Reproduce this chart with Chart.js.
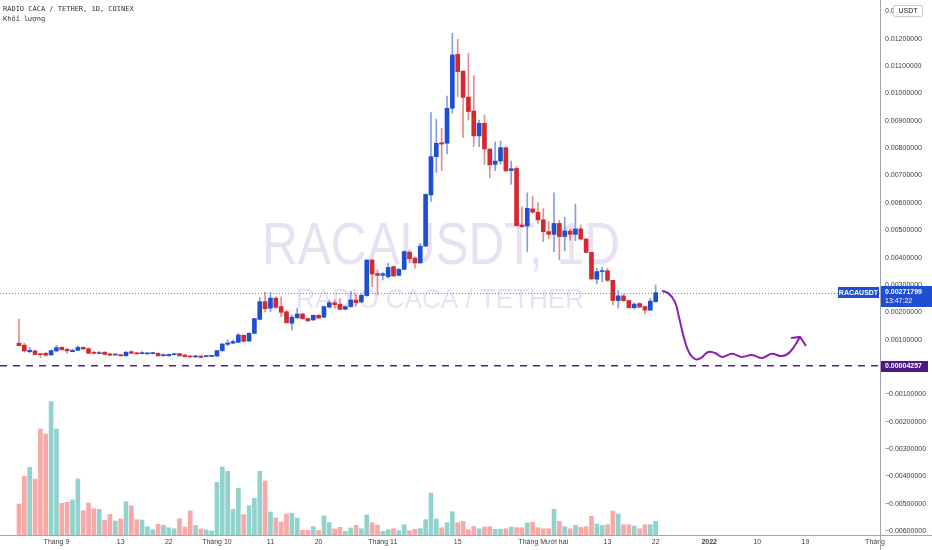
<!DOCTYPE html>
<html>
<head>
<meta charset="utf-8">
<script src="https://cdn.jsdelivr.net/npm/chart.js@4.4.0/dist/chart.umd.min.js"></script>
<style>
  html, body { margin: 0; padding: 0; background: #ffffff; }
  #wrap { position: relative; width: 932px; height: 550px; }
</style>
</head>
<body>
<div id="wrap"><canvas id="chart" width="932" height="550"></canvas></div>
<script>
// RACA/USDT, nến ngày (1D), ngày 0 = 25/08/2021, ngày 119 = 22/12/2021
var opens = [
  0.00087, 0.00080, 0.00056, 0.00059, 0.00048, 0.00050, 0.00044, 0.00059, 0.00072, 0.00065,
  0.00056, 0.00061, 0.00072, 0.00067, 0.00054, 0.00049, 0.00054, 0.00048, 0.00044, 0.00045,
  0.00041, 0.00056, 0.00052, 0.00049, 0.00048, 0.00049, 0.00050, 0.00041, 0.00041, 0.00045,
  0.00049, 0.00044, 0.00040, 0.00037, 0.00040, 0.00038, 0.00039, 0.00040, 0.00060, 0.00083,
  0.00087, 0.00090, 0.00116, 0.00095, 0.00123, 0.00174, 0.00239, 0.00215, 0.00252, 0.00221,
  0.00202, 0.00160, 0.00180, 0.00194, 0.00177, 0.00172, 0.00189, 0.00182, 0.00219, 0.00235,
  0.00230, 0.00211, 0.00221, 0.00245, 0.00238, 0.00261, 0.00391, 0.00342, 0.00335, 0.00330,
  0.00367, 0.00335, 0.00357, 0.00420, 0.00398, 0.00381, 0.00442, 0.00629, 0.00769, 0.00820,
  0.00818, 0.00946, 0.01143, 0.01082, 0.00987, 0.00936, 0.00845, 0.00891, 0.00797, 0.00741,
  0.00753, 0.00802, 0.00718, 0.00726, 0.00519, 0.00516, 0.00578, 0.00566, 0.00538, 0.00495,
  0.00485, 0.00525, 0.00477, 0.00497, 0.00485, 0.00505, 0.00468, 0.00419, 0.00321, 0.00349,
  0.00352, 0.00317, 0.00243, 0.00260, 0.00243, 0.00217, 0.00232, 0.00221, 0.00208, 0.00239
];
var highs = [
  0.00175, 0.00087, 0.00071, 0.00061, 0.00050, 0.00054, 0.00062, 0.00079, 0.00074, 0.00067,
  0.00066, 0.00077, 0.00074, 0.00070, 0.00056, 0.00057, 0.00056, 0.00049, 0.00047, 0.00046,
  0.00056, 0.00059, 0.00054, 0.00056, 0.00052, 0.00054, 0.00052, 0.00048, 0.00047, 0.00048,
  0.00050, 0.00045, 0.00041, 0.00041, 0.00042, 0.00041, 0.00042, 0.00061, 0.00087, 0.00099,
  0.00099, 0.00123, 0.00118, 0.00126, 0.00178, 0.00254, 0.00274, 0.00272, 0.00257, 0.00257,
  0.00208, 0.00190, 0.00215, 0.00196, 0.00178, 0.00191, 0.00193, 0.00223, 0.00243, 0.00245,
  0.00251, 0.00223, 0.00277, 0.00267, 0.00265, 0.00393, 0.00394, 0.00355, 0.00347, 0.00379,
  0.00370, 0.00360, 0.00425, 0.00428, 0.00403, 0.00452, 0.00633, 0.00930, 0.00906, 0.00873,
  0.00991, 0.01220, 0.01198, 0.01082, 0.01147, 0.01065, 0.00903, 0.00921, 0.00797, 0.00823,
  0.00826, 0.00805, 0.00753, 0.00733, 0.00586, 0.00637, 0.00625, 0.00601, 0.00579, 0.00531,
  0.00637, 0.00537, 0.00547, 0.00503, 0.00596, 0.00519, 0.00470, 0.00420, 0.00361, 0.00364,
  0.00361, 0.00318, 0.00279, 0.00267, 0.00245, 0.00235, 0.00235, 0.00223, 0.00251, 0.00300
];
var lows = [
  0.00077, 0.00054, 0.00052, 0.00044, 0.00035, 0.00039, 0.00043, 0.00055, 0.00062, 0.00050,
  0.00055, 0.00060, 0.00063, 0.00049, 0.00049, 0.00048, 0.00044, 0.00041, 0.00043, 0.00040,
  0.00040, 0.00049, 0.00046, 0.00048, 0.00047, 0.00048, 0.00040, 0.00040, 0.00040, 0.00044,
  0.00040, 0.00037, 0.00035, 0.00034, 0.00033, 0.00037, 0.00038, 0.00039, 0.00057, 0.00077,
  0.00085, 0.00089, 0.00092, 0.00093, 0.00121, 0.00172, 0.00201, 0.00202, 0.00215, 0.00184,
  0.00160, 0.00135, 0.00178, 0.00175, 0.00166, 0.00170, 0.00177, 0.00180, 0.00215, 0.00215,
  0.00208, 0.00209, 0.00218, 0.00223, 0.00235, 0.00258, 0.00294, 0.00263, 0.00318, 0.00325,
  0.00330, 0.00333, 0.00355, 0.00381, 0.00361, 0.00379, 0.00440, 0.00605, 0.00711, 0.00718,
  0.00779, 0.00928, 0.00988, 0.00839, 0.00903, 0.00806, 0.00806, 0.00741, 0.00692, 0.00718,
  0.00742, 0.00715, 0.00668, 0.00515, 0.00510, 0.00422, 0.00562, 0.00525, 0.00458, 0.00470,
  0.00422, 0.00391, 0.00425, 0.00464, 0.00462, 0.00464, 0.00417, 0.00320, 0.00304, 0.00312,
  0.00312, 0.00227, 0.00215, 0.00239, 0.00215, 0.00212, 0.00217, 0.00194, 0.00206, 0.00236
];
var closes = [
  0.00078, 0.00059, 0.00061, 0.00046, 0.00045, 0.00043, 0.00060, 0.00071, 0.00063, 0.00059,
  0.00061, 0.00072, 0.00066, 0.00050, 0.00050, 0.00052, 0.00046, 0.00043, 0.00046, 0.00041,
  0.00054, 0.00050, 0.00048, 0.00051, 0.00051, 0.00051, 0.00041, 0.00045, 0.00046, 0.00047,
  0.00041, 0.00038, 0.00037, 0.00040, 0.00035, 0.00040, 0.00041, 0.00060, 0.00084, 0.00088,
  0.00093, 0.00117, 0.00094, 0.00123, 0.00177, 0.00239, 0.00213, 0.00252, 0.00218, 0.00200,
  0.00162, 0.00182, 0.00194, 0.00177, 0.00169, 0.00189, 0.00179, 0.00221, 0.00235, 0.00228,
  0.00211, 0.00221, 0.00245, 0.00235, 0.00262, 0.00391, 0.00340, 0.00335, 0.00341, 0.00364,
  0.00333, 0.00357, 0.00422, 0.00396, 0.00381, 0.00442, 0.00631, 0.00769, 0.00818, 0.00815,
  0.00946, 0.01141, 0.01080, 0.00986, 0.00934, 0.00845, 0.00891, 0.00797, 0.00739, 0.00753,
  0.00802, 0.00717, 0.00725, 0.00517, 0.00513, 0.00580, 0.00566, 0.00538, 0.00495, 0.00485,
  0.00525, 0.00477, 0.00497, 0.00485, 0.00505, 0.00468, 0.00419, 0.00322, 0.00349, 0.00352,
  0.00317, 0.00243, 0.00260, 0.00243, 0.00217, 0.00230, 0.00219, 0.00208, 0.00241, 0.00272
];
// Khối lượng (đơn vị tương đối)
var volumes = [
  31, 58.7, 67.7, 56, 106, 101, 133.3, 106, 31.7, 32.7,
  35, 56, 24.3, 32, 26.3, 25.7, 14.7, 20.7, 14, 16,
  33.3, 29.3, 15.3, 15, 8.3, 5.3, 10.7, 9.7, 7.3, 6.3,
  16.3, 8, 24, 9.7, 6, 5, 4, 52.7, 68, 63.7,
  25.7, 46.7, 20.3, 29.3, 36.7, 63.7, 54, 23, 17, 13,
  21, 21.7, 17, 4.7, 4.7, 8.3, 4.5, 19.2, 12.5, 6,
  7.7, 3.7, 7, 9.7, 6.3, 20, 12.3, 10, 3.7, 5.3,
  6.3, 4.3, 10.3, 4.3, 5.7, 6.3, 15.3, 42, 16, 7.3,
  12.3, 23.3, 12.3, 13.7, 5.3, 8.7, 6.3, 8, 8.3, 5.7,
  5.7, 6.3, 8, 7.3, 7.3, 12, 12.7, 7.3, 6.3, 6.3,
  25.7, 13.7, 8.3, 6.3, 9.7, 7.7, 8.3, 18.7, 11, 9.7,
  10.3, 24, 21, 10.3, 10.3, 9, 6.3, 10.3, 10.3, 13.7
];

// Nhãn trục thời gian (chỉ số ngày)
var timeTickDays = [7, 19, 28, 37, 47, 56, 68, 82, 98, 110, 119, 129, 138, 147, 160];
var timeTickLabels = ["Tháng 9", "13", "22", "Tháng 10", "11", "20", "Tháng 11", "15",
  "Tháng Mười hai", "13", "22", "2022", "10", "19", "Tháng"];

// Nhãn trục giá
var priceTicks = [-0.006, -0.005, -0.004, -0.003, -0.002, -0.001, 0, 0.001, 0.002, 0.003,
  0.004, 0.005, 0.006, 0.007, 0.008, 0.009, 0.010, 0.011, 0.012, 0.013];

var lastPrice = 0.00271799;
var lastTime = "13:47:22";
var levelPrice = 0.00004257;

// Đường vẽ tay màu tím (dự đoán)
var drawX = [120.2, 121.3, 122.6, 123.4, 124.3, 125.2, 126.4, 127.5, 128.8, 130.1, 131.4,
  133.3, 135.1, 137.0, 138.9, 140.7, 142.6, 144.1, 146.0];
var drawY = [0.00278, 0.00271, 0.00238, 0.00179, 0.00106, 0.00055, 0.00029, 0.00033, 0.00055,
  0.00051, 0.00037, 0.00048, 0.00037, 0.00044, 0.00033, 0.00048, 0.00040, 0.00055, 0.00110];
var arrowX = [144.3, 146.0, 147.1];
var arrowY = [0.00106, 0.00110, 0.00077];

var BLUE = "#1f4fd1";
var RED = "#d42a2f";
var FONT = "'Liberation Sans', Arial, sans-serif";

var up = opens.map(function(o, i) { return closes[i] >= o; });

var wickData = lows.map(function(l, i) { return { x: i, y: [l, highs[i]] }; });
var bodyData = opens.map(function(o, i) { return { x: i, y: [o, closes[i]] }; });
var volData = volumes.map(function(v, i) { return { x: i, y: v }; });
var drawData = drawX.map(function(x, i) { return { x: x, y: drawY[i] }; });
var arrowData = arrowX.map(function(x, i) { return { x: x, y: arrowY[i] }; });

function priceLabel(v) {
  if (Math.abs(v) < 1e-12) return "0.00000000";
  return (v < 0 ? "\u2212" : "") + Math.abs(v).toFixed(8);
}

// Chữ mờ ở nền và các đường ngang
var backgroundPlugin = {
  id: "background",
  beforeDatasetsDraw: function(chart) {
    var ctx = chart.ctx;
    var ca = chart.chartArea;
    var y = chart.scales.y;
    var cx = (ca.left + ca.right) / 2;
    ctx.save();
    ctx.fillStyle = "rgba(149,117,205,0.22)";
    ctx.textAlign = "center";
    ctx.textBaseline = "alphabetic";

    ctx.font = "60px " + FONT;
    var t1 = "RACAUSDT, 1D";
    var w1 = ctx.measureText(t1).width;
    ctx.save();
    ctx.translate(cx + 1, 264);
    ctx.scale(358 / w1, 1);
    ctx.fillText(t1, 0, 0);
    ctx.restore();

    ctx.font = "28px " + FONT;
    var t2 = "RADIO CACA / TETHER";
    var w2 = ctx.measureText(t2).width;
    ctx.save();
    ctx.translate(cx, 308);
    ctx.scale(288 / w2, 1);
    ctx.fillText(t2, 0, 0);
    ctx.restore();

    // đường giá hiện tại (chấm)
    var yl = Math.round(y.getPixelForValue(lastPrice)) + 0.5;
    ctx.strokeStyle = "rgba(41,98,255,0.75)";
    ctx.lineWidth = 1;
    ctx.setLineDash([1, 2]);
    ctx.beginPath();
    ctx.moveTo(ca.left, yl);
    ctx.lineTo(ca.right, yl);
    ctx.stroke();

    // đường ngang tím (gạch)
    var yp = y.getPixelForValue(levelPrice);
    ctx.strokeStyle = "#55208f";
    ctx.lineWidth = 1.5;
    ctx.setLineDash([7, 6]);
    ctx.beginPath();
    ctx.moveTo(ca.left, yp);
    ctx.lineTo(ca.right, yp);
    ctx.stroke();
    ctx.restore();
  }
};

// Nhãn giá, tiêu đề, đường viền trục
var overlayPlugin = {
  id: "overlay",
  afterDraw: function(chart) {
    var ctx = chart.ctx;
    var ca = chart.chartArea;
    var y = chart.scales.y;
    var W = chart.width, H = chart.height;
    ctx.save();

    // viền trục
    ctx.strokeStyle = "#a3a6af";
    ctx.lineWidth = 1;
    ctx.beginPath();
    ctx.moveTo(ca.right + 0.5, 0);
    ctx.lineTo(ca.right + 0.5, H);
    ctx.moveTo(0, ca.bottom + 0.5);
    ctx.lineTo(W, ca.bottom + 0.5);
    ctx.stroke();

    // nhãn giá hiện tại
    var yl = Math.round(y.getPixelForValue(lastPrice));
    ctx.fillStyle = BLUE;
    ctx.fillRect(ca.right - 42, yl - 6, 41, 11);
    ctx.fillRect(ca.right + 1, yl - 7, W - ca.right - 1, 21);
    ctx.fillStyle = "#ffffff";
    ctx.textBaseline = "middle";
    ctx.textAlign = "center";
    ctx.font = "bold 7px " + FONT;
    ctx.fillText("RACAUSDT", ca.right - 21.5, yl);
    ctx.textAlign = "left";
    ctx.fillText(priceLabel(lastPrice), ca.right + 5, yl - 1);
    ctx.font = "7px " + FONT;
    ctx.fillText(lastTime, ca.right + 5, yl + 8);

    // nhãn mức tím
    var yp = Math.round(y.getPixelForValue(levelPrice));
    ctx.fillStyle = "#4a1a80";
    ctx.fillRect(ca.right + 1, yp - 5, 47, 11);
    ctx.fillStyle = "#ffffff";
    ctx.font = "bold 7px " + FONT;
    ctx.fillText(priceLabel(levelPrice), ca.right + 5, yp + 0.5);

    // huy hiệu USDT
    ctx.fillStyle = "#ffffff";
    ctx.strokeStyle = "#c9ccd4";
    ctx.beginPath();
    ctx.roundRect(ca.right + 13.5, 5.5, 29, 11, 2);
    ctx.fill();
    ctx.stroke();
    ctx.fillStyle = "#131722";
    ctx.textAlign = "center";
    ctx.font = "7px " + FONT;
    ctx.fillText("USDT", ca.right + 28, 11.5);

    // tiêu đề góc trái
    ctx.textAlign = "left";
    ctx.fillStyle = "#333333";
    ctx.font = "7px 'DejaVu Sans Mono', monospace";
    ctx.fillText("RADIO CACA / TETHER, 1D, COINEX", 3, 9);
    ctx.fillText("Khối lượng", 3, 19);
    ctx.restore();
  }
};

var ctx = document.getElementById("chart").getContext("2d");
var chart = new Chart(ctx, {
  type: "bar",
  data: {
    datasets: [
      {
        label: "Khối lượng",
        data: volData,
        yAxisID: "yVol",
        backgroundColor: up.map(function(u) { return u ? "#92d2cc" : "#f7a9a7"; }),
        barThickness: 4,
        grouped: false,
        order: 4
      },
      {
        label: "Bóng nến",
        data: wickData,
        yAxisID: "y",
        backgroundColor: up.map(function(u) { return u ? "rgba(31,79,209,0.55)" : "rgba(212,42,47,0.55)"; }),
        barThickness: 1,
        grouped: false,
        order: 3
      },
      {
        label: "Thân nến",
        data: bodyData,
        yAxisID: "y",
        backgroundColor: up.map(function(u) { return u ? BLUE : RED; }),
        barThickness: 4,
        minBarLength: 1,
        grouped: false,
        order: 2
      },
      {
        type: "line",
        label: "Dự đoán",
        data: drawData,
        yAxisID: "y",
        borderColor: "#8a1fb0",
        borderWidth: 2,
        pointRadius: 0,
        tension: 0.4,
        order: 1
      },
      {
        type: "line",
        label: "Mũi tên",
        data: arrowData,
        yAxisID: "y",
        borderColor: "#8a1fb0",
        borderWidth: 2,
        pointRadius: 0,
        tension: 0,
        order: 1
      }
    ]
  },
  options: {
    responsive: false,
    animation: false,
    devicePixelRatio: 1,
    layout: { padding: 0 },
    plugins: {
      legend: { display: false },
      tooltip: { enabled: false }
    },
    scales: {
      x: {
        type: "linear",
        min: -3.55,
        max: 160.93,
        offset: false,
        grid: { display: false, drawTicks: false },
        border: { display: false },
        ticks: {
          autoSkip: false,
          maxRotation: 0,
          padding: 3,
          color: "#3c3c3c",
          font: function(c) {
            return { family: FONT, size: 7, weight: (c.tick && c.tick.value === 129) ? "bold" : "normal" };
          },
          callback: function(v) {
            var k = timeTickDays.indexOf(v);
            return k >= 0 ? timeTickLabels[k] : "";
          }
        },
        afterBuildTicks: function(scale) {
          scale.ticks = timeTickDays.map(function(d) { return { value: d }; });
        },
        afterFit: function(scale) {
          scale.height = 15;
          scale.paddingLeft = 0;
          scale.paddingRight = 0;
        }
      },
      y: {
        position: "right",
        min: -0.006143,
        max: 0.013419,
        grid: { display: false, drawTicks: false },
        border: { display: false },
        ticks: {
          padding: 5,
          color: "#3c3c3c",
          font: { family: FONT, size: 7 },
          callback: function(v) { return priceLabel(v); }
        },
        afterBuildTicks: function(scale) {
          scale.ticks = priceTicks.map(function(p) { return { value: p }; });
        },
        afterFit: function(scale) {
          scale.width = 52;
          scale.paddingTop = 0;
          scale.paddingBottom = 0;
        }
      },
      yVol: {
        display: false,
        min: 0,
        max: 535
      }
    }
  },
  plugins: [backgroundPlugin, overlayPlugin]
});
</script>
</body>
</html>
